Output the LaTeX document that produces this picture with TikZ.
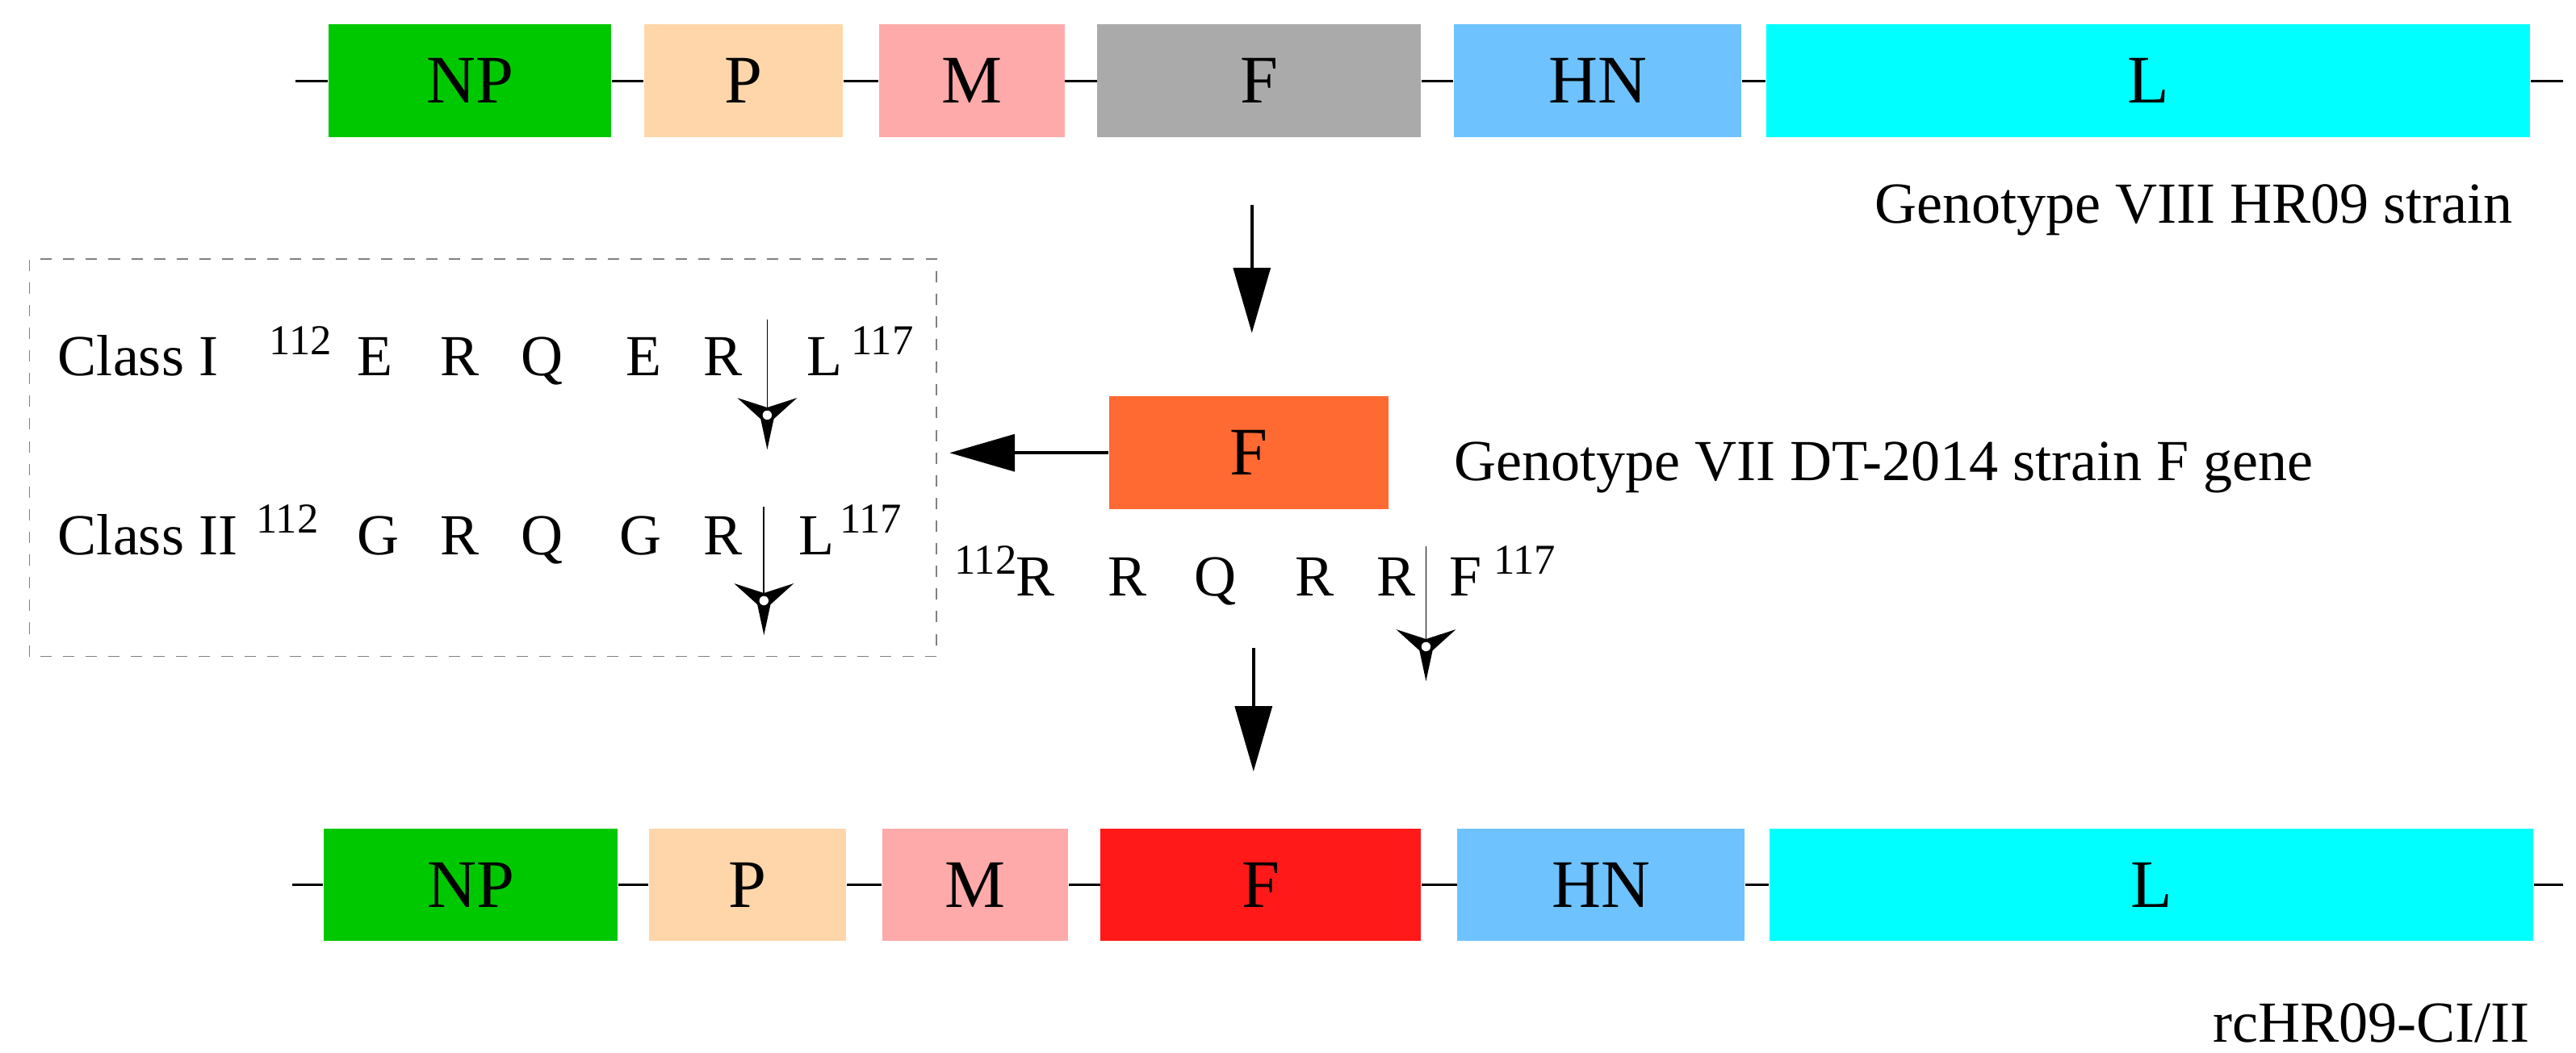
\documentclass[tikz,border=0pt]{standalone}
\usepackage{fontspec}
\setmainfont{Liberation Serif}
\usetikzlibrary{arrows.meta,calc}
\definecolor{npc}{RGB}{0,200,0}
\definecolor{pc}{RGB}{255,214,170}
\definecolor{mc}{RGB}{255,170,170}
\definecolor{fc}{RGB}{170,170,170}
\definecolor{hnc}{RGB}{110,195,255}
\definecolor{lc}{RGB}{0,255,255}
\definecolor{fmidc}{RGB}{255,105,50}
\definecolor{fnewc}{RGB}{255,25,25}
\newcommand{\cutmark}[3]{%
  \draw[line width=0.5pt] (#1,#2) -- (#1,#3);
  \foreach \a in {150,30,270} {
    \fill ($(#1,#3)+(\a+90:4.5)$) -- ($(#1,#3)+(\a:21)$) -- ($(#1,#3)+(\a-90:4.5)$) -- cycle;
  }
  \fill[white] (#1,#3) circle (2.8);
}
\begin{document}
\begin{tikzpicture}[x=0.02035cm, y=0.02035cm,
  gene/.style = {inner sep=0pt, minimum height=1.4cm, font=\fontsize{24}{28}\selectfont},
  lbl/.style = {inner sep=0pt, font=\fontsize{20.5}{24}\selectfont},
  aa/.style = {inner sep=0pt, anchor=base, font=\fontsize{20.5}{24}\selectfont},
  sup/.style = {inner sep=0pt, anchor=base, font=\fontsize{15}{18}\selectfont},
  big/.style = {line width=1.2pt, -{Triangle[length=23pt,width=13pt]}}]
\useasboundingbox (0,0) rectangle (1568,640.8);
% genotype VIII genome
\node[gene, fill=npc, minimum width=3.50cm] (np1) at (286,591.5) {NP};
\node[gene, fill=pc, minimum width=2.46cm] (p1) at (452.5,591.5) {P};
\node[gene, fill=mc, minimum width=2.30cm] (m1) at (591.5,591.5) {M};
\node[gene, fill=fc, minimum width=4.01cm] (f1) at (766.5,591.5) {F};
\node[gene, fill=hnc, minimum width=3.56cm] (hn1) at (972.5,591.5) {HN};
\node[gene, fill=lc, minimum width=9.46cm] (l1) at (1307.5,591.5) {L};
\coordinate (s1) at (180,591.5);
\coordinate (e1) at (1560,591.5);
\draw[line width=1pt] (s1) -- (np1) -- (p1) -- (m1) -- (f1) -- (hn1) -- (l1) -- (e1);
\node[lbl, anchor=east] (g8) at (1530,513) {Genotype VIII HR09 strain};
% donor F gene
\node[gene, fill=fmidc, minimum width=3.46cm] (f2) at (760,365) {F};
\node[lbl, anchor=west] (g7) at (885,356) {Genotype VII DT-2014 strain F gene};
\coordinate (a1) at (762,516);
\coordinate (a2) at (762,438);
\draw[big] (a1) -- (a2);
\coordinate (a3) at (578,365);
\draw[big] (f2.west) -- (a3);
\coordinate (a4) at (763,246);
\coordinate (a5) at (763,171);
\draw[big] (a4) -- (a5);
% cleavage site of DT-2014
\node[sup] at (600,291) {112};
\foreach \x/\t in {630/R,686/R,740/Q,800/R,850/R,892/F}
  \node[aa] at (\x,278) {\t};
\node[sup] at (928,291) {117};
\cutmark{868}{308}{247}
% classes
\draw[gray, dash pattern=on 4pt off 4pt, line width=0.4pt] (18,241) rectangle (570,483);
\node[aa, anchor=base west] at (35,412) {Class I};
\node[sup] at (183,425) {112};
\foreach \x/\t in {228/E,280/R,330/Q,392/E,440/R,502/L}
  \node[aa] at (\x,412) {\t};
\node[sup] at (537,425) {117};
\cutmark{467}{446}{388}
\node[aa, anchor=base west] at (35,303) {Class II};
\node[sup] at (175,316) {112};
\foreach \x/\t in {230/G,280/R,330/Q,390/G,440/R,497/L}
  \node[aa] at (\x,303) {\t};
\node[sup] at (530,316) {117};
\cutmark{465}{332}{275}
% recombinant genome
\node[gene, fill=npc, minimum width=3.64cm] (np2) at (286.5,102) {NP};
\node[gene, fill=pc, minimum width=2.44cm] (p2) at (455,102) {P};
\node[gene, fill=mc, minimum width=2.30cm] (m2) at (593.5,102) {M};
\node[gene, fill=fnewc, minimum width=3.97cm] (f3) at (767.5,102) {F};
\node[gene, fill=hnc, minimum width=3.56cm] (hn2) at (974.5,102) {HN};
\node[gene, fill=lc, minimum width=9.46cm] (l2) at (1309.5,102) {L};
\coordinate (s2) at (178,102);
\coordinate (e2) at (1560,102);
\draw[line width=1pt] (s2) -- (np2) -- (p2) -- (m2) -- (f3) -- (hn2) -- (l2) -- (e2);
\node[lbl, anchor=base east] (rc) at (1540,6) {rcHR09-CI/II};
\end{tikzpicture}
\end{document}
